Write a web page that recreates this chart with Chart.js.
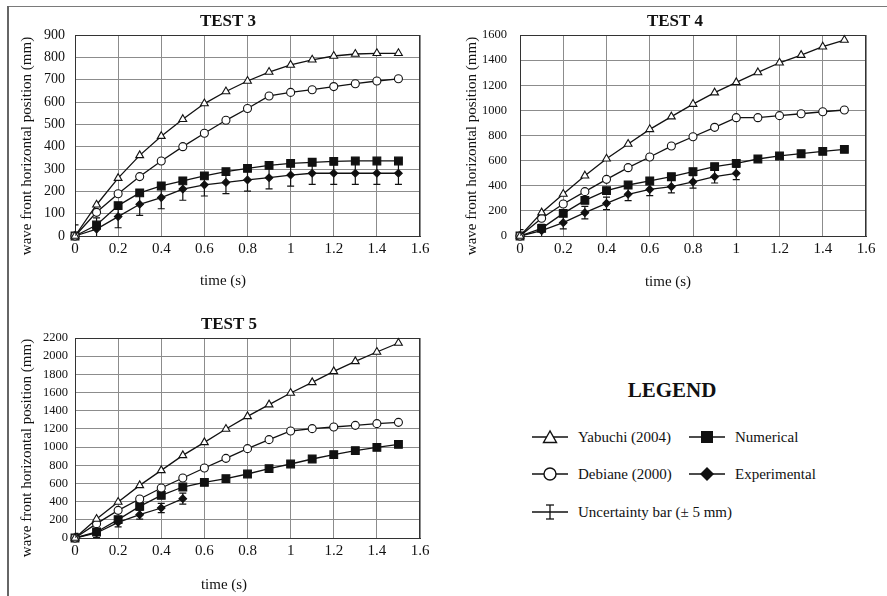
<!DOCTYPE html>
<html>
<head>
<meta charset="utf-8">
<script src="https://cdn.jsdelivr.net/npm/chart.js@4/dist/chart.umd.min.js"></script>
<style>
  html, body { margin: 0; padding: 0; background: #fff; }
  body { width: 887px; height: 596px; position: relative; overflow: hidden;
         font-family: "Liberation Serif", "Times New Roman", serif; color: #111; }
  .panel { position: absolute; }
  .frame-top { position: absolute; left: 7px; top: 6px; width: 880px; height: 1px; background: #7a7a7a; }
  .frame-left { position: absolute; left: 7px; top: 6px; width: 2px; height: 590px; background: #666; }
  .legend-title { position: absolute; left: 572px; top: 378px; width: 200px; text-align: center;
                  font-weight: bold; font-size: 21px; line-height: 24px; }
  .legend-item { position: absolute; height: 20px; font-size: 15px; line-height: 20px; white-space: nowrap; }
  .legend-item svg { position: absolute; left: 0; top: 0; }
  .legend-item span { position: absolute; left: 46px; top: 0; }
</style>
</head>
<body>
<div class="frame-top"></div>
<div class="frame-left"></div>

<div class="panel" style="left:10px; top:5px; width:430px; height:286px;"><canvas id="test3"></canvas></div>
<div class="panel" style="left:450px; top:5px; width:437px; height:286px;"><canvas id="test4"></canvas></div>
<div class="panel" style="left:10px; top:308px; width:430px; height:286px;"><canvas id="test5"></canvas></div>

<div class="legend-title">LEGEND</div>
<div class="legend-item" style="left:532px; top:427px;">
  <svg width="36" height="20"><line x1="0" y1="10" x2="36" y2="10" stroke="#111" stroke-width="1.3"/>
    <polygon points="18,4 11.5,15.5 24.5,15.5" fill="#fff" stroke="#111" stroke-width="1.4"/></svg>
  <span>Yabuchi (2004)</span>
</div>
<div class="legend-item" style="left:689px; top:427px;">
  <svg width="36" height="20"><line x1="0" y1="10" x2="36" y2="10" stroke="#111" stroke-width="1.3"/>
    <rect x="12" y="4" width="12" height="12" fill="#111"/></svg>
  <span>Numerical</span>
</div>
<div class="legend-item" style="left:532px; top:464px;">
  <svg width="36" height="20"><line x1="0" y1="10" x2="36" y2="10" stroke="#111" stroke-width="1.3"/>
    <circle cx="18" cy="10" r="6" fill="#fff" stroke="#111" stroke-width="1.4"/></svg>
  <span>Debiane (2000)</span>
</div>
<div class="legend-item" style="left:689px; top:464px;">
  <svg width="36" height="20"><line x1="0" y1="10" x2="36" y2="10" stroke="#111" stroke-width="1.3"/>
    <polygon points="18,3 25,10 18,17 11,10" fill="#111"/></svg>
  <span>Experimental</span>
</div>
<div class="legend-item" style="left:532px; top:502px;">
  <svg width="36" height="20"><line x1="0" y1="10" x2="36" y2="10" stroke="#111" stroke-width="1.3"/>
    <line x1="18" y1="3" x2="18" y2="17" stroke="#111" stroke-width="1.3"/>
    <line x1="14" y1="3" x2="22" y2="3" stroke="#111" stroke-width="1.3"/>
    <line x1="14" y1="17" x2="22" y2="17" stroke="#111" stroke-width="1.3"/></svg>
  <span>Uncertainty bar (± 5 mm)</span>
</div>

<script>
"use strict";

// time axis shared by all tests (s)
const times = [0, 0.1, 0.2, 0.3, 0.4, 0.5, 0.6, 0.7, 0.8, 0.9, 1.0, 1.1, 1.2, 1.3, 1.4, 1.5];

// TEST 3 (mm)
const t3Yabuchi = [0, 140, 259, 361, 447, 523, 593, 647, 694, 734, 766, 789, 806, 815, 818, 818];
const t3Debiane = [0, 106, 189, 266, 336, 400, 460, 518, 571, 627, 643, 655, 669, 682, 694, 704];
const t3Numerical = [0, 49, 136, 193, 224, 247, 269, 288, 303, 316, 325, 330, 334, 336, 336, 336];
const t3Experimental = [0, 31, 87, 142, 172, 210, 229, 240, 251, 261, 273, 281, 281, 281, 281, 281];
const t3Uncertainty = [50, 50, 50, 50, 50, 50, 50, 50, 50, 50, 50, 50, 50, 50, 50, 50];

// TEST 4 (mm)
const t4Yabuchi = [0, 186, 334, 480, 615, 732, 849, 950, 1050, 1141, 1223, 1302, 1379, 1440, 1507, 1560];
const t4Debiane = [0, 141, 255, 353, 451, 544, 629, 716, 790, 865, 942, 942, 958, 973, 989, 1003];
const t4Numerical = [0, 61, 180, 284, 361, 406, 438, 472, 512, 552, 578, 613, 637, 655, 674, 690];
const t4Experimental = [0, 42, 106, 186, 260, 332, 371, 393, 431, 472, 499];
const t4Uncertainty = [50, 50, 50, 50, 50, 50, 50, 50, 50, 50, 50];

// TEST 5 (mm)
const t5Yabuchi = [0, 209, 396, 579, 744, 909, 1052, 1199, 1338, 1467, 1595, 1712, 1833, 1943, 2046, 2145];
const t5Debiane = [0, 158, 304, 429, 550, 660, 770, 876, 983, 1082, 1177, 1203, 1221, 1239, 1258, 1272];
const t5Numerical = [0, 66, 202, 348, 469, 561, 612, 653, 704, 763, 814, 869, 917, 961, 997, 1030];
const t5Experimental = [0, 55, 172, 257, 330, 433];
const t5Uncertainty = [50, 50, 50, 50, 50, 60];

const INK = "#111";
const SERIF = '"Liberation Serif", "Times New Roman", serif';

Chart.defaults.font.family = SERIF;
Chart.defaults.color = INK;

function points(values) {
    return values.map((v, i) => ({ x: times[i], y: v }));
}

// vertical uncertainty bars with caps, placed through the chart scales
const errorBars = {
    id: "errorBars",
    afterDatasetsDraw(chart) {
        const { ctx, chartArea, scales } = chart;
        ctx.save();
        ctx.beginPath();
        ctx.rect(chartArea.left, chartArea.top, chartArea.width, chartArea.height);
        ctx.clip();
        ctx.strokeStyle = INK;
        ctx.lineWidth = 1.2;
        chart.data.datasets.forEach(ds => {
            if (!ds.errorBars) return;
            ds.data.forEach((p, i) => {
                const e = ds.errorBars[i];
                const px = scales.x.getPixelForValue(p.x);
                const lo = scales.y.getPixelForValue(p.y - e);
                const hi = scales.y.getPixelForValue(p.y + e);
                ctx.beginPath();
                ctx.moveTo(px, lo); ctx.lineTo(px, hi);
                ctx.moveTo(px - 3.5, lo); ctx.lineTo(px + 3.5, lo);
                ctx.moveTo(px - 3.5, hi); ctx.lineTo(px + 3.5, hi);
                ctx.stroke();
            });
        });
        ctx.restore();
    }
};

// dark frame round the plot area
const plotFrame = {
    id: "plotFrame",
    beforeDatasetsDraw(chart) {
        const { ctx, chartArea: a } = chart;
        ctx.save();
        ctx.strokeStyle = "#333";
        ctx.lineWidth = 1;
        ctx.strokeRect(a.left + 0.5, a.top + 0.5, a.width - 1, a.height);
        ctx.restore();
    }
};

// panel title and axis titles, centred on the whole panel like the original figure
const panelLabels = {
    id: "panelLabels",
    afterDraw(chart, args, opts) {
        const ctx = chart.ctx;
        ctx.save();
        ctx.fillStyle = INK;
        ctx.textAlign = "center";
        ctx.textBaseline = "middle";
        ctx.font = "bold 17px " + SERIF;
        ctx.fillText(opts.title, opts.titleAt[0], opts.titleAt[1]);
        ctx.font = "15px " + SERIF;
        ctx.fillText(opts.xTitle, opts.xTitleAt[0], opts.xTitleAt[1]);
        ctx.translate(opts.yTitleAt[0], opts.yTitleAt[1]);
        ctx.rotate(-Math.PI / 2);
        ctx.fillText(opts.yTitle, 0, 0);
        ctx.restore();
    }
};

function lineSet(label, values, style, extra) {
    return Object.assign({
        label: label,
        data: points(values),
        borderColor: INK,
        borderWidth: 1.3,
        tension: 0,
        clip: false,
        pointBorderColor: INK,
        pointBorderWidth: 1.1,
        pointHoverRadius: 0
    }, style, extra || {});
}

function makeTest(id, t) {
    const datasets = [
        lineSet("Yabuchi (2004)", t.yabuchi, { pointStyle: "triangle", pointRadius: 4.5, pointBackgroundColor: "#fff" }),
        lineSet("Debiane (2000)", t.debiane, { pointStyle: "circle", pointRadius: 4, pointBackgroundColor: "#fff" }),
        lineSet("Numerical", t.numerical, { pointStyle: "rect", pointRadius: 5.5, pointBackgroundColor: INK }),
        lineSet("Experimental", t.experimental, { pointStyle: "rectRot", pointRadius: 3.8, pointBackgroundColor: INK },
                { errorBars: t.uncertainty })
    ];

    new Chart(document.getElementById(id), {
        type: "line",
        data: { datasets: datasets },
        plugins: [plotFrame, errorBars, panelLabels],
        options: {
            responsive: true,
            maintainAspectRatio: false,
            animation: false,
            events: [],
            layout: { padding: { top: 30, right: t.padRight, left: 0, bottom: 0 } },
            plugins: {
                legend: { display: false },
                title: { display: false },
                tooltip: { enabled: false },
                panelLabels: {
                    title: t.title,
                    titleAt: t.titleAt,
                    xTitle: "time (s)",
                    xTitleAt: t.xTitleAt,
                    yTitle: "wave front horizontal position (mm)",
                    yTitleAt: t.yTitleAt
                }
            },
            scales: {
                x: {
                    type: "linear",
                    min: 0,
                    max: 1.6,
                    afterFit: s => { s.height = t.xAxisHeight; },
                    grid: { color: "#8c8c8c", lineWidth: 1, drawTicks: false },
                    border: { color: "#333" },
                    ticks: {
                        stepSize: 0.2,
                        padding: 4,
                        font: { size: 15 },
                        color: INK,
                        callback: v => String(Number(v.toFixed(1)))
                    }
                },
                y: {
                    min: 0,
                    max: t.yMax,
                    afterFit: s => { s.width = t.yAxisWidth; },
                    grid: { color: "#8c8c8c", lineWidth: 1, drawTicks: false },
                    border: { color: "#333" },
                    ticks: {
                        stepSize: t.yStep,
                        padding: t.yTickPad,
                        font: { size: t.yTickSize },
                        color: INK,
                        callback: v => String(v)
                    }
                }
            }
        }
    });
}

makeTest("test3", {
    title: "TEST 3",
    yabuchi: t3Yabuchi, debiane: t3Debiane, numerical: t3Numerical,
    experimental: t3Experimental, uncertainty: t3Uncertainty,
    yMax: 900, yStep: 100, yTickSize: 14, yTickPad: 10,
    yAxisWidth: 65, xAxisHeight: 55, padRight: 20,
    titleAt: [218, 17], xTitleAt: [213, 276], yTitleAt: [17, 141]
});

makeTest("test4", {
    title: "TEST 4",
    yabuchi: t4Yabuchi, debiane: t4Debiane, numerical: t4Numerical,
    experimental: t4Experimental, uncertainty: t4Uncertainty,
    yMax: 1600, yStep: 200, yTickSize: 12.5, yTickPad: 13,
    yAxisWidth: 70, xAxisHeight: 55, padRight: 21,
    titleAt: [225, 17], xTitleAt: [218, 277], yTitleAt: [22, 141]
});

makeTest("test5", {
    title: "TEST 5",
    yabuchi: t5Yabuchi, debiane: t5Debiane, numerical: t5Numerical,
    experimental: t5Experimental, uncertainty: t5Uncertainty,
    yMax: 2200, yStep: 200, yTickSize: 12.5, yTickPad: 7,
    yAxisWidth: 65, xAxisHeight: 56, padRight: 20,
    titleAt: [219, 17], xTitleAt: [214, 277], yTitleAt: [17, 140]
});
</script>
</body>
</html>
